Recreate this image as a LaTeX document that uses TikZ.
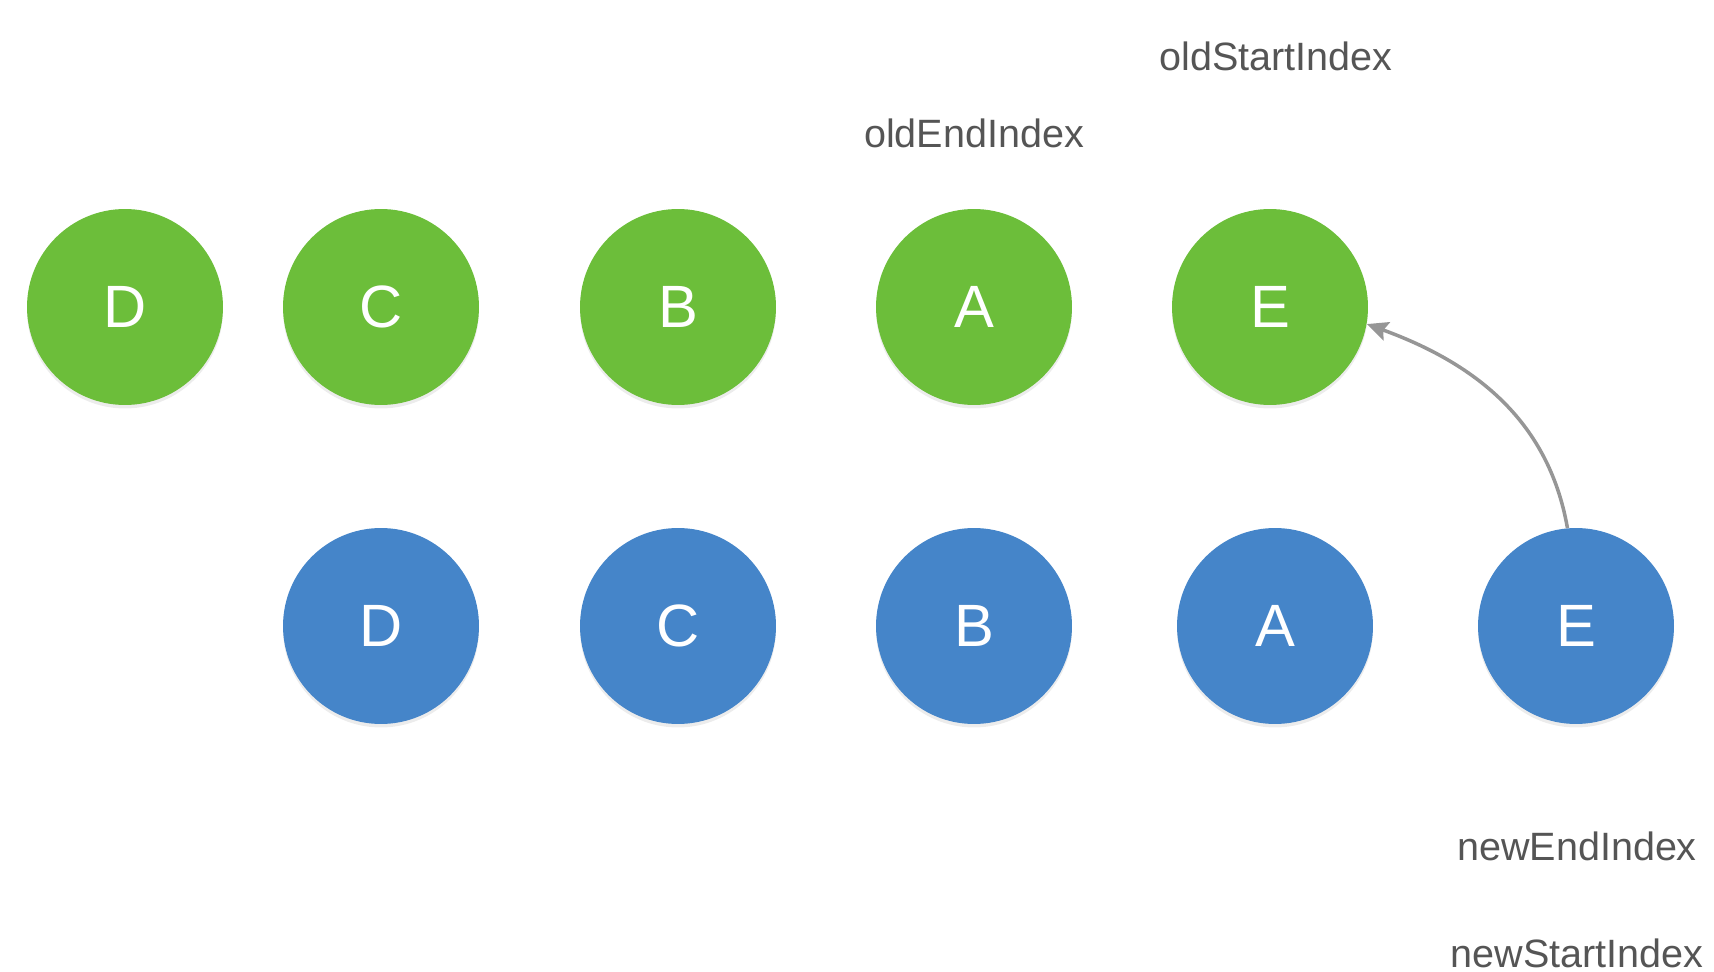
\documentclass[tikz,border=0pt]{standalone}
\usepackage{fontspec}
\setmainfont{Liberation Sans}
\usetikzlibrary{arrows.meta, shadows}
\definecolor{greenold}{RGB}{108,190,58}
\definecolor{bluenew}{RGB}{69,133,201}
\definecolor{labelgray}{RGB}{85,85,85}
\definecolor{arrowgray}{RGB}{150,150,150}

\begin{document}
\begin{tikzpicture}[x=0.02cm, y=0.02cm,
    vnode/.style={circle, minimum size=3.92cm, inner sep=0pt, text=white,
                  font=\fontsize{34}{34}\selectfont,
                  drop shadow={shadow xshift=0pt, shadow yshift=-0.07cm,
                               opacity=0.15}},
    oldnode/.style={vnode, fill=greenold},
    newnode/.style={vnode, fill=bluenew},
    idx/.style={text=labelgray, font=\fontsize{22.5}{22.5}\selectfont},
    >={Stealth[length=12pt, width=11pt, inset=2pt]}]
  \useasboundingbox (0,0) rectangle (1714,-972);
  % old children
  \foreach \n/\x in {D/125, C/381, B/678, A/974, E/1270}
    \node[oldnode] (o\n) at (\x,-307) {\n};
  % new children
  \foreach \n/\x in {D/381, C/678, B/974, A/1275, E/1576}
    \node[newnode] (n\n) at (\x,-626) {\n};
  % index labels
  \node[idx] (oldStart) at (1276,-56) {oldStartIndex};
  \node[idx] (oldEnd) at (974,-133) {oldEndIndex};
  \node[idx] (newEnd) at (1577,-846) {newEndIndex};
  \node[idx] (newStart) at (1577,-953) {newStartIndex};
  % move
  \draw[->, arrowgray, line width=2pt] (nE.95) to[out=100, in=-20] (oE.-10);
\end{tikzpicture}
\end{document}
